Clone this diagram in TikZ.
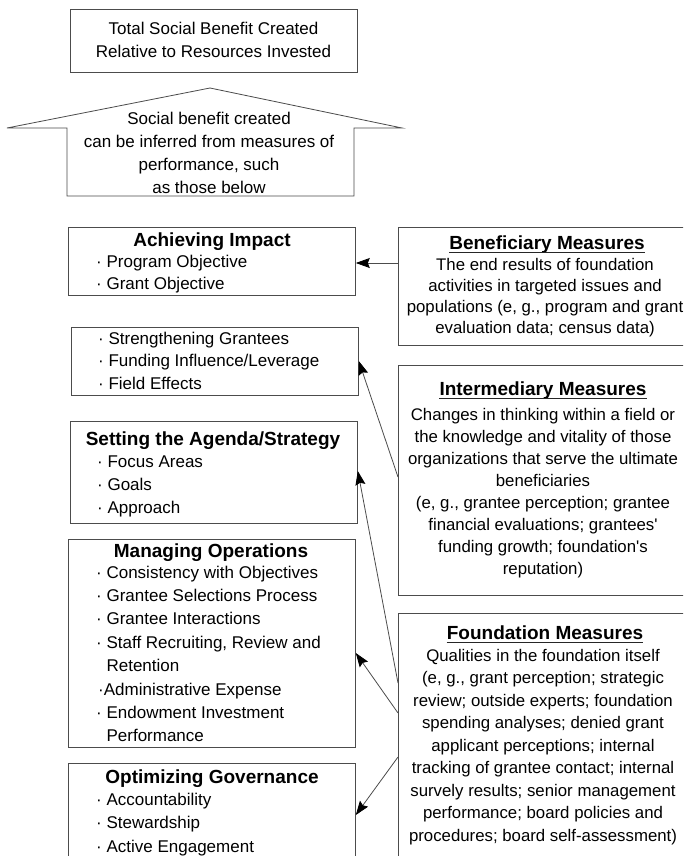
\documentclass[tikz,border=0pt]{standalone}
\usepackage{fontspec}
\setmainfont{Liberation Sans}
\usetikzlibrary{arrows.meta}
\tikzset{
  box/.style={draw=black!70, line width=0.8pt, inner sep=0pt, anchor=north west, rectangle},
  txt/.style={inner sep=0pt, font=\fontsize{17}{23}\selectfont},
  ttl/.style={inner sep=0pt, anchor=base, font=\bfseries\fontsize{19}{23}\selectfont},
  conn/.style={draw=black!70, line width=0.8pt, -{Stealth[length=14pt,width=10pt,inset=2pt,color=black]}},
  uline/.style={draw=black!85, line width=1pt},
}
\begin{document}
\begin{tikzpicture}[x=1pt,y=-1pt]
\useasboundingbox (0,0) rectangle (683,856);
\clip (0,0) rectangle (683,856);
\fill[white] (0,0) rectangle (683,856);

% top box (multi-line nodes: base anchor = baseline of last line)
\node[box, minimum width=287pt, minimum height=63pt] (top) at (70,9) {};
\node[txt, anchor=base, align=center] (toptxt) at (213.5,58)
  {Total Social Benefit Created\\Relative to Resources Invested};

% big arrow
\draw[draw=black!70, line width=0.8pt] (210,88) -- (402,128) -- (354,128) -- (354,196)
  -- (67,196) -- (67,128) -- (7,128) -- cycle;
\node[txt, anchor=base, align=center] (arrtxt) at (209,193)
  {Social benefit created\\can be inferred from measures of\\performance, such\\as those below};

% left boxes
\node[box, minimum width=287pt, minimum height=68pt] (achieve) at (68,227) {};
\node[ttl] (achievet) at (212,246) {Achieving Impact};
\node[txt, anchor=base west, align=left, font=\fontsize{17}{22}\selectfont] (achievei) at (96,289)
  {· Program Objective\\· Grant Objective};

\node[box, minimum width=287pt, minimum height=68pt] (strength) at (71,327) {};
\node[txt, anchor=base west, align=left, font=\fontsize{17}{22.5}\selectfont] (strengthi) at (98,389)
  {· Strengthening Grantees\\· Funding Influence/Leverage\\· Field Effects};

\node[box, minimum width=287pt, minimum height=102pt] (setting) at (70,421) {};
\node[ttl] (settingt) at (213,445) {Setting the Agenda/Strategy};
\node[txt, anchor=base west, align=left, font=\fontsize{17}{23}\selectfont] (settingi) at (97,513)
  {· Focus Areas\\· Goals\\· Approach};

\node[box, minimum width=287pt, minimum height=208pt] (managing) at (68,539) {};
\node[ttl] (managingt) at (211,557) {Managing Operations};
\node[txt, anchor=base west, align=left, font=\fontsize{17}{23.4}\selectfont] (managingi) at (96,741.8)
  {· Consistency with Objectives\\· Grantee Selections Process\\· Grantee Interactions\\
   · Staff Recruiting, Review and\\\phantom{· }Retention\\\hspace*{2pt}·Administrative Expense\\
   · Endowment Investment\\\phantom{· }Performance};

\node[box, minimum width=287pt, minimum height=120pt] (govern) at (68,763) {};
\node[ttl] (governt) at (212,783) {Optimizing Governance};
\node[txt, anchor=base west, align=left, font=\fontsize{17}{23.5}\selectfont] (governi) at (96,852)
  {· Accountability\\· Stewardship\\· Active Engagement};

% right boxes
\node[box, minimum width=298pt, minimum height=118pt] (benef) at (398,227) {};
\node[ttl] (beneft) at (547,249) {Beneficiary Measures};
\draw[uline] ([yshift=-3.5pt]beneft.base west) -- ([yshift=-3.5pt]beneft.base east);
\node[txt, anchor=base, align=center, font=\fontsize{16.8}{21}\selectfont] (benefb) at (545,333)
  {The end results of foundation\\activities in targeted issues and\\populations (e, g., program and grant\\evaluation data; census data)};

\node[box, minimum width=298pt, minimum height=230pt] (interm) at (398,365) {};
\node[ttl] (intermt) at (543,395) {Intermediary Measures};
\draw[uline] ([yshift=-3.5pt]intermt.base west) -- ([yshift=-3.5pt]intermt.base east);
\node[txt, anchor=base, align=center, font=\fontsize{16.8}{22}\selectfont] (intermb) at (543,574.5)
  {Changes in thinking within a field or\\the knowledge and vitality of those\\organizations that serve the ultimate\\beneficiaries\\(e, g., grantee perception; grantee\\financial evaluations; grantees\textquotesingle\\funding growth; foundation\textquotesingle s\\reputation)};

\node[box, minimum width=298pt, minimum height=270pt] (found) at (398,613) {};
\node[ttl] (foundt) at (545,639) {Foundation Measures};
\draw[uline] ([yshift=-3.5pt]foundt.base west) -- ([yshift=-3.5pt]foundt.base east);
\node[txt, anchor=base, align=center, font=\fontsize{16.8}{22.5}\selectfont] (foundb) at (543,841)
  {Qualities in the foundation itself\\(e, g., grant perception; strategic\\review; outside experts; foundation\\spending analyses; denied grant\\applicant perceptions; internal\\tracking of grantee contact; internal\\survely results; senior management\\performance; board policies and\\procedures; board self-assessment)};

% connectors
\draw[conn] ([yshift=-36pt]benef.north west) -- ([yshift=-36pt]achieve.north east);
\draw[conn] ([yshift=-112pt]interm.north west) -- ([yshift=-34pt]strength.north east);
\draw[conn] ([yshift=-70pt]found.north west) -- ([yshift=-50pt]setting.north east);
\draw[conn] ([yshift=-100pt]found.north west) -- ([yshift=-114pt]managing.north east);
\draw[conn] ([yshift=-144pt]found.north west) -- ([yshift=-52pt]govern.north east);
\end{tikzpicture}
\end{document}
